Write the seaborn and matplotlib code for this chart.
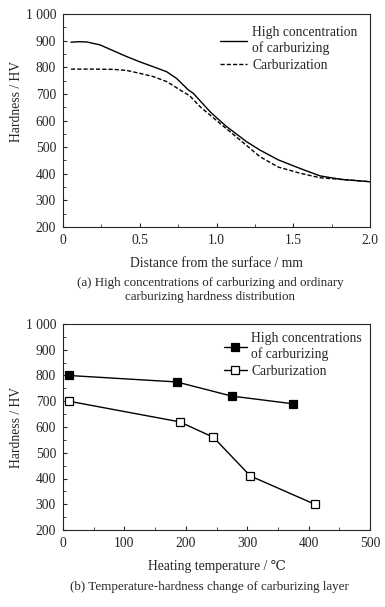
import numpy as np
import pandas as pd
import matplotlib
matplotlib.use("Agg")
import matplotlib.pyplot as plt
import seaborn as sns
from matplotlib.ticker import MultipleLocator

# (a) hardness vs distance from surface
dist_high = [0.052, 0.10, 0.154, 0.241, 0.328, 0.415, 0.502, 0.588, 0.676, 0.74,
             0.816, 0.849, 0.958, 1.0, 1.066, 1.197, 1.283, 1.403, 1.544, 1.674,
             1.81, 2.0]
hv_high = [894, 896, 895, 884, 862, 840, 820, 802, 783, 758,
           715, 702, 633, 611, 577, 520, 489, 452, 420, 392,
           379, 370]
dist_carb = [0.052, 0.197, 0.328, 0.415, 0.502, 0.588, 0.676, 0.762, 0.827, 0.893,
             1.023, 1.153, 1.283, 1.403, 1.544, 1.674, 1.81, 2.0]
hv_carb = [793, 793, 792, 788, 777, 765, 746, 715, 692, 652,
           589, 527, 464, 425, 402, 385, 379, 370]

# (b) hardness vs heating temperature
temp_high = [10, 185, 275, 375]
hv_temp_high = [800, 775, 720, 690]
temp_carb = [10, 190, 245, 305, 410]
hv_temp_carb = [700, 620, 560, 410, 300]

yticks = [200, 300, 400, 500, 600, 700, 800, 900, 1000]
ytick_labels = ["200", "300", "400", "500", "600", "700", "800", "900", "1 000"]

sns.set_style("ticks")
plt.rcParams["font.family"] = ["Liberation Serif", "DejaVu Serif"]
plt.rcParams["font.size"] = 9.8
plt.rcParams["xtick.direction"] = "in"
plt.rcParams["ytick.direction"] = "in"

fig = plt.figure(figsize=(3.85, 6.07), dpi=100)
W, H = 385, 607
ax1 = fig.add_axes([63 / W, 1 - 227 / H, 307 / W, 213 / H])
ax2 = fig.add_axes([63 / W, 1 - 530 / H, 307 / W, 206 / H])

lab_a1 = "High concentration\nof carburizing"
lab_a2 = "Carburization"
df_a = pd.DataFrame({"x": dist_high + dist_carb, "y": hv_high + hv_carb,
                     "s": [lab_a1] * len(dist_high) + [lab_a2] * len(dist_carb)})
sns.lineplot(data=df_a, x="x", y="y", style="s", color="black", lw=1.0,
             dashes={lab_a1: "", lab_a2: (3, 1.5)}, ax=ax1)
ax1.set_xlim(0, 2.0)
ax1.set_ylim(200, 1000)
ax1.set_xticks([0, 0.5, 1.0, 1.5, 2.0])
ax1.set_xticklabels(["0", "0.5", "1.0", "1.5", "2.0"])
ax1.set_yticks(yticks)
ax1.set_yticklabels(ytick_labels)
ax1.xaxis.set_minor_locator(MultipleLocator(0.25))
ax1.yaxis.set_minor_locator(MultipleLocator(50))
ax1.set_xlabel("Distance from the surface / mm", labelpad=7)
ax1.set_ylabel("Hardness / HV")
ax1.yaxis.set_label_coords(-0.13, 0.59)
ax1.legend(frameon=False, loc="upper right", handlelength=2.0, handletextpad=0.4,
           labelspacing=0.25, borderaxespad=0.5)
fig.text(0.545, 1 - 290 / H, "(a) High concentrations of carburizing and ordinary\ncarburizing hardness distribution",
         ha="center", va="center", fontsize=9.4, linespacing=1.25)

lab_b1 = "High concentrations\nof carburizing"
lab_b2 = "Carburization"
df_b = pd.DataFrame({"x": temp_high + temp_carb, "y": hv_temp_high + hv_temp_carb,
                     "s": [lab_b1] * len(temp_high) + [lab_b2] * len(temp_carb)})
sns.lineplot(data=df_b, x="x", y="y", style="s", markers={lab_b1: "s", lab_b2: "s"},
             dashes=False, color="black", lw=1.0, ax=ax2, legend=False)
lines = ax2.get_lines()
lines[0].set_markerfacecolor("black")
lines[1].set_markerfacecolor("white")
for ln in lines[:2]:
    ln.set_markeredgecolor("black")
    ln.set_markersize(5.5)
    ln.set_markeredgewidth(0.9)
ax2.set_xlim(0, 500)
ax2.set_ylim(200, 1000)
ax2.set_xticks([0, 100, 200, 300, 400, 500])
ax2.set_yticks(yticks)
ax2.set_yticklabels(ytick_labels)
ax2.xaxis.set_minor_locator(MultipleLocator(50))
ax2.yaxis.set_minor_locator(MultipleLocator(50))
ax2.set_xlabel("Heating temperature / ℃", labelpad=7)
ax2.set_ylabel("Hardness / HV")
ax2.yaxis.set_label_coords(-0.13, 0.5)
ax2.legend(lines[:2], [lab_b1, lab_b2], frameon=False,
           loc="upper right", handlelength=1.7, handletextpad=0.3, labelspacing=0.25,
           borderaxespad=0.2)
fig.text(0.545, 1 - 587 / H, "(b) Temperature-hardness change of carburizing layer",
         ha="center", va="center", fontsize=9.4)

for ax in (ax1, ax2):
    for sp in ax.spines.values():
        sp.set_linewidth(0.8)
        sp.set_visible(True)
    ax.tick_params(which="both", top=False, right=False, labelsize=9.8, pad=5)
    ax.tick_params(which="major", length=3)
    ax.tick_params(which="minor", length=2)

fig.savefig("out.png", dpi=100)
